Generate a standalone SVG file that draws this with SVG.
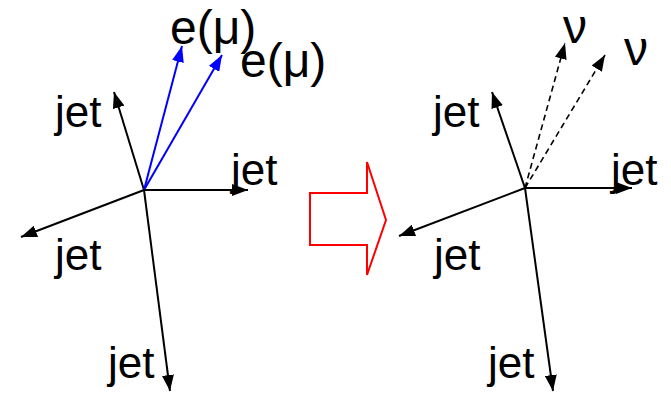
<svg xmlns="http://www.w3.org/2000/svg" width="671" height="393" viewBox="0 0 671 393">
<style>
.l{fill:none;stroke:#000;stroke-width:2}
.b{fill:none;stroke:#0000ff;stroke-width:2}
.d{fill:none;stroke:#000;stroke-width:1.6;stroke-dasharray:6 4}
.t{font-family:"Liberation Sans",Arial,sans-serif;font-size:44px;fill:#000}
.e{font-family:"Liberation Sans",Arial,sans-serif;font-size:48px;fill:#000}
.n{font-family:"Liberation Sans",Arial,sans-serif;font-size:48px;fill:#000}
</style>
<defs>
<marker id="ak" markerUnits="userSpaceOnUse" viewBox="0 0 16 12" refX="16" refY="6" markerWidth="16" markerHeight="12" orient="auto"><path d="M0,0 L16,6 L0,12 z" fill="#000"/></marker>
<marker id="ab" markerUnits="userSpaceOnUse" viewBox="0 0 16 12" refX="16" refY="6" markerWidth="16" markerHeight="12" orient="auto"><path d="M0,0 L16,6 L0,12 z" fill="#0000ff"/></marker>
</defs>
<rect width="671" height="393" fill="#fff"/>
<g id="connectors">
<line class="l" x1="144" y1="190" x2="114" y2="92" marker-end="url(#ak)"/>
<line class="b" x1="144" y1="190" x2="182" y2="46" marker-end="url(#ab)"/>
<line class="b" x1="144" y1="190" x2="222" y2="55" marker-end="url(#ab)"/>
<line class="l" x1="144" y1="190" x2="248" y2="190" marker-end="url(#ak)"/>
<line class="l" x1="144" y1="190" x2="21" y2="237" marker-end="url(#ak)"/>
<line class="l" x1="144" y1="190" x2="170" y2="391" marker-end="url(#ak)"/>
<line class="l" x1="525" y1="188" x2="492" y2="92" marker-end="url(#ak)"/>
<line class="d" x1="525" y1="188" x2="565" y2="43" marker-end="url(#ak)"/>
<line class="d" x1="525" y1="188" x2="605" y2="55" marker-end="url(#ak)"/>
<line class="l" x1="525" y1="188" x2="632" y2="188" marker-end="url(#ak)"/>
<line class="l" x1="525" y1="188" x2="399" y2="236" marker-end="url(#ak)"/>
<line class="l" x1="525" y1="188" x2="553" y2="391" marker-end="url(#ak)"/>
</g>
<g id="labels-left">
<text class="e" x="170" y="44">e(μ)</text>
<text class="e" x="240" y="77">e(μ)</text>
<text class="t" x="55" y="127">jet</text>
<text class="t" x="231" y="185">jet</text>
<text class="t" x="55" y="270">jet</text>
<text class="t" x="108" y="378">jet</text>
</g>
<g id="arrow">
<path d="M310,193 L367,193 L367,162 L386,220 L367,275 L367,245 L310,245 Z" fill="none" stroke="#ff0000" stroke-width="2"/>
</g>
<g id="labels-right">
<text class="n" x="563" y="43">ν</text>
<text class="n" x="624" y="65">ν</text>
<text class="t" x="433" y="127">jet</text>
<text class="t" x="611" y="185">jet</text>
<text class="t" x="434" y="270">jet</text>
<text class="t" x="488" y="378">jet</text>
</g>
</svg>
